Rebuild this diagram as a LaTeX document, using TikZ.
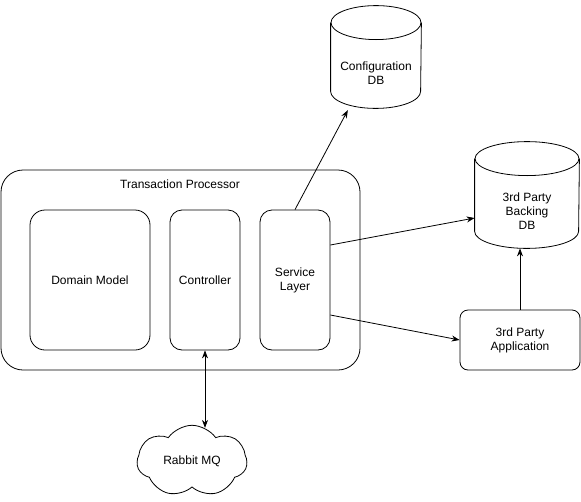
\documentclass[tikz,border=0pt]{standalone}
\usepackage{fontspec}
\setmainfont{Liberation Sans}
\usepackage{tikz}
\usetikzlibrary{arrows.meta,shapes.symbols}

% cylinder outline round a named node: #1 name, #2 x radius
\newcommand{\dbdraw}[2]{%
  \draw ([yshift=-17pt]#1.north) ellipse [x radius=#2, y radius=17pt];
  \draw ([yshift=-17pt]#1.north west) -- ([yshift=17pt]#1.south west)
    arc [start angle=180, end angle=360, x radius=#2, y radius=17pt]
    -- ([yshift=-17pt]#1.north east);
}

\tikzset{
  box/.style={draw, rounded corners=15pt, align=center, inner sep=0pt},
  db/.style={inner sep=0pt, label={[yshift=-16pt, align=center]center:#1}},
  link/.style={-{Stealth[length=8pt,width=6pt]}},
}

\begin{document}
\begin{tikzpicture}[x=1pt, y=-1pt, font=\fontsize{12}{14}\selectfont, line width=0.8pt]
  \useasboundingbox (0,0) rectangle (581,501);
  \node[box, rounded corners=22pt, minimum width=359pt, minimum height=200pt] (tp) at (180.5,270) {};
  \node (tplabel) at (180,184) {Transaction Processor};
  \node[box, minimum width=120pt, minimum height=140pt] (dm) at (90,280) {Domain Model};
  \node[box, rounded corners=12pt, minimum width=70pt, minimum height=140pt] (ctrl) at (205,280) {Controller};
  \node[box, rounded corners=12pt, minimum width=70pt, minimum height=140pt] (sl) at (295,280) {Service\\Layer};
  \node[db={Configuration\\DB}, minimum width=90pt, minimum height=102pt] (cfgdb) at (376,57) {};
  \node[db={3rd Party\\Backing\\DB}, minimum width=104pt, minimum height=106pt] (bdb) at (527,195) {};
  \node[box, rounded corners=8pt, minimum width=120pt, minimum height=60pt] (app) at (520,340) {3rd Party\\Application};
  \node[draw, cloud, cloud puffs=7, cloud puff arc=110, aspect=1.6, minimum width=110pt, minimum height=67pt] (mq) at (192,461) {Rabbit MQ};
  \dbdraw{cfgdb}{45pt}
  \dbdraw{bdb}{52pt}

  \draw[link, shorten >=2pt] (sl.north) -- (cfgdb);
  \draw[link] ([yshift=35pt]sl.east) -- ([yshift=-23pt]bdb.west);
  \draw[link] ([yshift=-35pt]sl.east) -- (app.west);
  \draw[link] (app.north) -- (app.north |- bdb.south);
  \draw[{Stealth[length=8pt,width=6pt]}-{Stealth[length=8pt,width=6pt]}] (ctrl.south) -- ([yshift=-3pt]ctrl.south |- mq.north);
\end{tikzpicture}
\end{document}
